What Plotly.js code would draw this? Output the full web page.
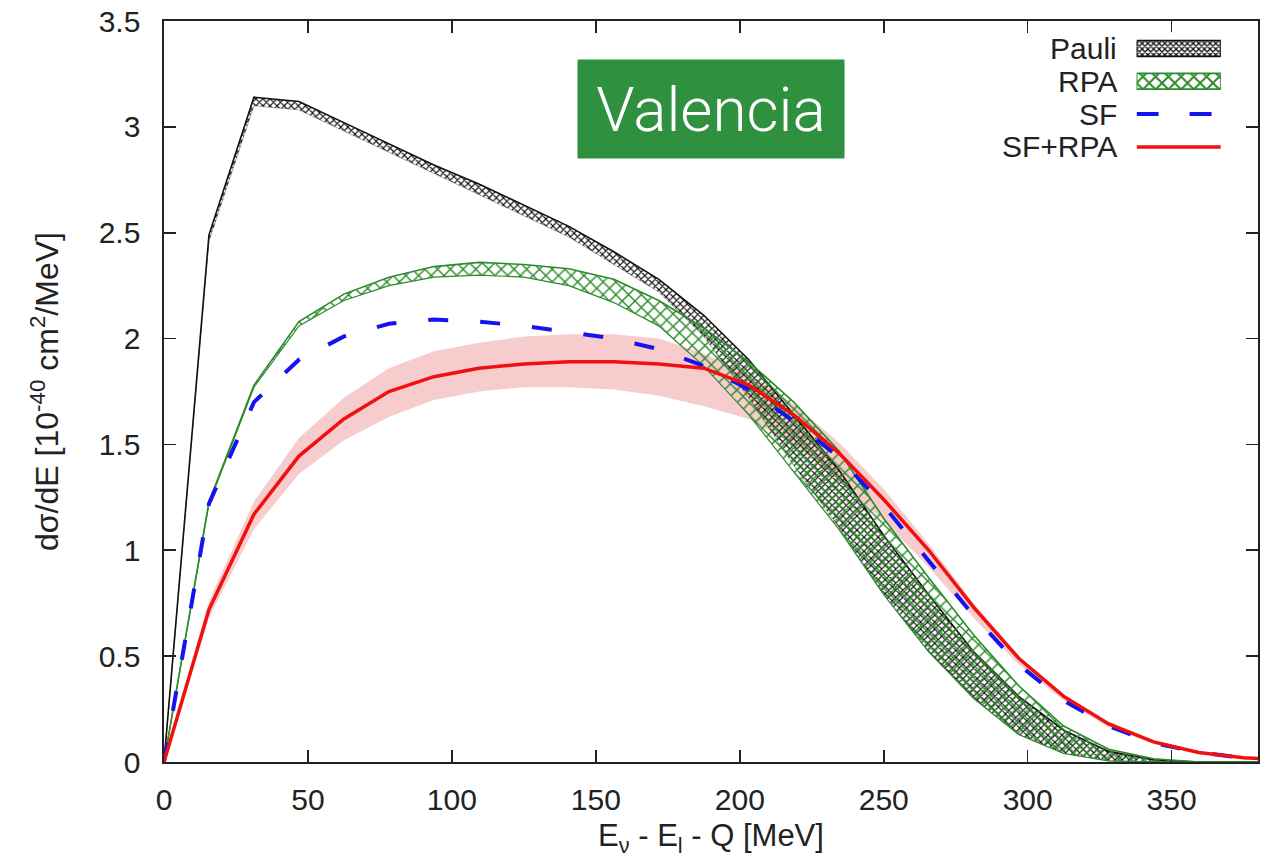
<!DOCTYPE html>
<html>
<head>
<meta charset="utf-8">
<script src="https://cdn.plot.ly/plotly-3.0.1.min.js"></script>
<style>html,body{margin:0;padding:0;background:#fff;}#chart{width:1266px;height:861px;}</style>
</head>
<body>
<div id="chart"></div>
<script>
// Energy transfer grid E_nu - E_l - Q [MeV]
const energy = [0, 15.625, 31.25, 46.875, 62.5, 78.125, 93.75, 109.375, 125, 140.625, 156.25, 171.875, 187.5, 203.125, 218.75, 234.375, 250, 265.625, 281.25, 296.875, 312.5, 328.125, 343.75, 359.375, 375, 390.625];

// Pauli band (upper / lower)
const pauliUpper = [0, 2.49, 3.14, 3.12, 3.02, 2.92, 2.82, 2.73, 2.63, 2.53, 2.41, 2.28, 2.11, 1.90, 1.64, 1.38, 1.07, 0.79, 0.52, 0.31, 0.15, 0.05, 0.01, 0, 0, 0];
const pauliLower = [0, 2.46, 3.10, 3.08, 2.98, 2.88, 2.78, 2.68, 2.58, 2.48, 2.35, 2.22, 2.01, 1.72, 1.40, 1.11, 0.79, 0.52, 0.30, 0.13, 0.04, 0.005, 0, 0, 0, 0];

// RPA band (upper / lower)
const rpaUpper = [0, 1.23, 1.78, 2.08, 2.21, 2.29, 2.34, 2.36, 2.35, 2.33, 2.28, 2.18, 2.05, 1.89, 1.70, 1.47, 1.15, 0.87, 0.60, 0.36, 0.17, 0.06, 0.015, 0, 0, 0];
const rpaLower = [0, 1.22, 1.77, 2.06, 2.18, 2.25, 2.29, 2.30, 2.29, 2.25, 2.17, 2.06, 1.87, 1.64, 1.37, 1.10, 0.79, 0.52, 0.30, 0.13, 0.04, 0.005, 0, 0, 0, 0];

// SF (dashed)
const sf = [0, 1.22, 1.70, 1.90, 2.01, 2.07, 2.09, 2.08, 2.06, 2.03, 2.00, 1.95, 1.87, 1.76, 1.61, 1.44, 1.21, 0.95, 0.69, 0.46, 0.29, 0.17, 0.09, 0.045, 0.02, 0.008];

// SF+RPA (solid) and its uncertainty band
const sfRpa = [0, 0.72, 1.17, 1.445, 1.62, 1.75, 1.82, 1.86, 1.88, 1.89, 1.89, 1.88, 1.86, 1.78, 1.64, 1.46, 1.24, 1.00, 0.73, 0.49, 0.31, 0.18, 0.095, 0.045, 0.02, 0.008];
const sfRpaUpper = [0, 0.76, 1.23, 1.53, 1.72, 1.86, 1.94, 1.98, 2.01, 2.02, 2.02, 2.00, 1.93, 1.83, 1.69, 1.51, 1.29, 1.03, 0.75, 0.50, 0.32, 0.19, 0.10, 0.05, 0.022, 0.009];
const sfRpaLower = [0, 0.68, 1.10, 1.36, 1.52, 1.63, 1.71, 1.75, 1.77, 1.77, 1.76, 1.73, 1.68, 1.62, 1.50, 1.33, 1.14, 0.92, 0.68, 0.46, 0.29, 0.165, 0.085, 0.04, 0.018, 0.007];

const xTicks = [0, 50, 100, 150, 200, 250, 300, 350];
const legendLabels = ['Pauli', 'RPA', 'SF', 'SF+RPA'];
const labelText = 'Valencia';

const GREEN = '#2d8a2d';
const PINK = '#f7cccc';
const BLUE = '#1414f0';
const RED = '#f01010';
const FONT = 'Liberation Sans, Arial, sans-serif';

const traces = [
  {x: energy, y: sfRpaLower, mode: 'lines', line: {width: 0}, showlegend: false, hoverinfo: 'skip'},
  {x: energy, y: sfRpaUpper, mode: 'lines', line: {width: 0}, fill: 'tonexty', fillcolor: PINK, showlegend: false, hoverinfo: 'skip'},
  {x: energy, y: pauliLower, mode: 'lines', line: {width: 0.6, color: 'rgba(0,0,0,0.5)'}, showlegend: false},
  {x: energy, y: pauliUpper, mode: 'lines', line: {width: 1.6, color: '#111'}, fill: 'tonexty',
   fillpattern: {shape: 'x', fgcolor: '#111', bgcolor: 'rgba(0,0,0,0)', size: 5, solidity: 0.4}, showlegend: false},
  {x: energy, y: rpaLower, mode: 'lines', line: {width: 1.2, color: GREEN}, showlegend: false},
  {x: energy, y: rpaUpper, mode: 'lines', line: {width: 1.6, color: GREEN}, fill: 'tonexty',
   fillpattern: {shape: 'x', fgcolor: GREEN, bgcolor: 'rgba(0,0,0,0)', size: 9, solidity: 0.3}, showlegend: false},
  {x: energy, y: sf, mode: 'lines', line: {width: 4, color: BLUE, dash: '20px,32px'}, showlegend: false},
  {x: energy, y: sfRpa, mode: 'lines', line: {width: 3.5, color: RED}, showlegend: false}
];

// legend samples on a hidden helper axis pair (row index = legend entry)
const h = 0.24;
const swatch = (i) => ({x: [0, 1, 1, 0, 0], y: [i - h, i - h, i + h, i + h, i - h]});
const pauliSw = swatch(legendLabels.indexOf('Pauli'));
const rpaSw = swatch(legendLabels.indexOf('RPA'));
const sfRow = legendLabels.indexOf('SF');
const sfRpaRow = legendLabels.indexOf('SF+RPA');
traces.push(
  {x: pauliSw.x, y: pauliSw.y, xaxis: 'x2', yaxis: 'y2', mode: 'lines', fill: 'toself', line: {color: '#111', width: 1.8},
   fillpattern: {shape: 'x', fgcolor: '#111', bgcolor: '#fff', size: 4, solidity: 0.55}, showlegend: false, hoverinfo: 'skip'},
  {x: rpaSw.x, y: rpaSw.y, xaxis: 'x2', yaxis: 'y2', mode: 'lines', fill: 'toself', line: {color: GREEN, width: 1.8},
   fillpattern: {shape: 'x', fgcolor: GREEN, bgcolor: '#fff', size: 9, solidity: 0.4}, showlegend: false, hoverinfo: 'skip'},
  {x: [0, 1], y: [sfRow, sfRow], xaxis: 'x2', yaxis: 'y2', mode: 'lines', line: {color: BLUE, width: 4, dash: '22px,31px'}, showlegend: false, hoverinfo: 'skip'},
  {x: [0, 1], y: [sfRpaRow, sfRpaRow], xaxis: 'x2', yaxis: 'y2', mode: 'lines', line: {color: RED, width: 3.5}, showlegend: false, hoverinfo: 'skip'}
);

const annotations = legendLabels.map((t, i) => ({
  text: t, x: 0, y: i, xref: 'x2', yref: 'y2', xanchor: 'right', yanchor: 'middle', xshift: -18,
  showarrow: false, font: {family: FONT, size: 30, color: '#222'}
}));
annotations.push({
  text: labelText, xref: 'paper', yref: 'paper', x: 0.5, y: 0.881, xanchor: 'center', yanchor: 'middle',
  showarrow: false, bgcolor: '#2f9040', width: 258, height: 90, borderpad: 4,
  font: {family: 'Roboto, Lato, sans-serif', weight: 300, size: 62, color: '#ffffff'}
});

const axisCommon = {
  showline: true, linecolor: '#222', linewidth: 1.6, mirror: 'ticks', ticks: 'inside', ticklen: 12, tickwidth: 1.6,
  tickcolor: '#222', showgrid: false, zeroline: false, tickfont: {family: FONT, size: 30, color: '#222'}
};

const layout = {
  width: 1266, height: 861,
  margin: {l: 164, r: 8, t: 21, b: 99},
  paper_bgcolor: '#fff', plot_bgcolor: '#fff',
  showlegend: false,
  xaxis: Object.assign({}, axisCommon, {
    range: [0, 380], tickvals: xTicks, ticktext: xTicks.map(String), ticklabelstandoff: 10,
    title: {text: 'E<sub>ν</sub> - E<sub>l</sub> - Q [MeV]', font: {family: FONT, size: 31, color: '#222'}, standoff: 10}
  }),
  yaxis: Object.assign({}, axisCommon, {
    range: [0, 3.5], dtick: 0.5, tick0: 0, ticklabelstandoff: 16,
    title: {text: 'dσ/dE [10<sup>-40</sup> cm<sup>2</sup>/MeV]', font: {family: FONT, size: 32, color: '#222'}, standoff: 30}
  }),
  xaxis2: {domain: [0.889, 0.966], range: [0, 1], anchor: 'y2', visible: false, fixedrange: true},
  yaxis2: {domain: [0.808, 0.985], range: [3.5, -0.5], anchor: 'x2', visible: false, fixedrange: true},
  annotations: annotations
};

Plotly.newPlot('chart', traces, layout, {displayModeBar: false, staticPlot: true});
</script>
</body>
</html>
